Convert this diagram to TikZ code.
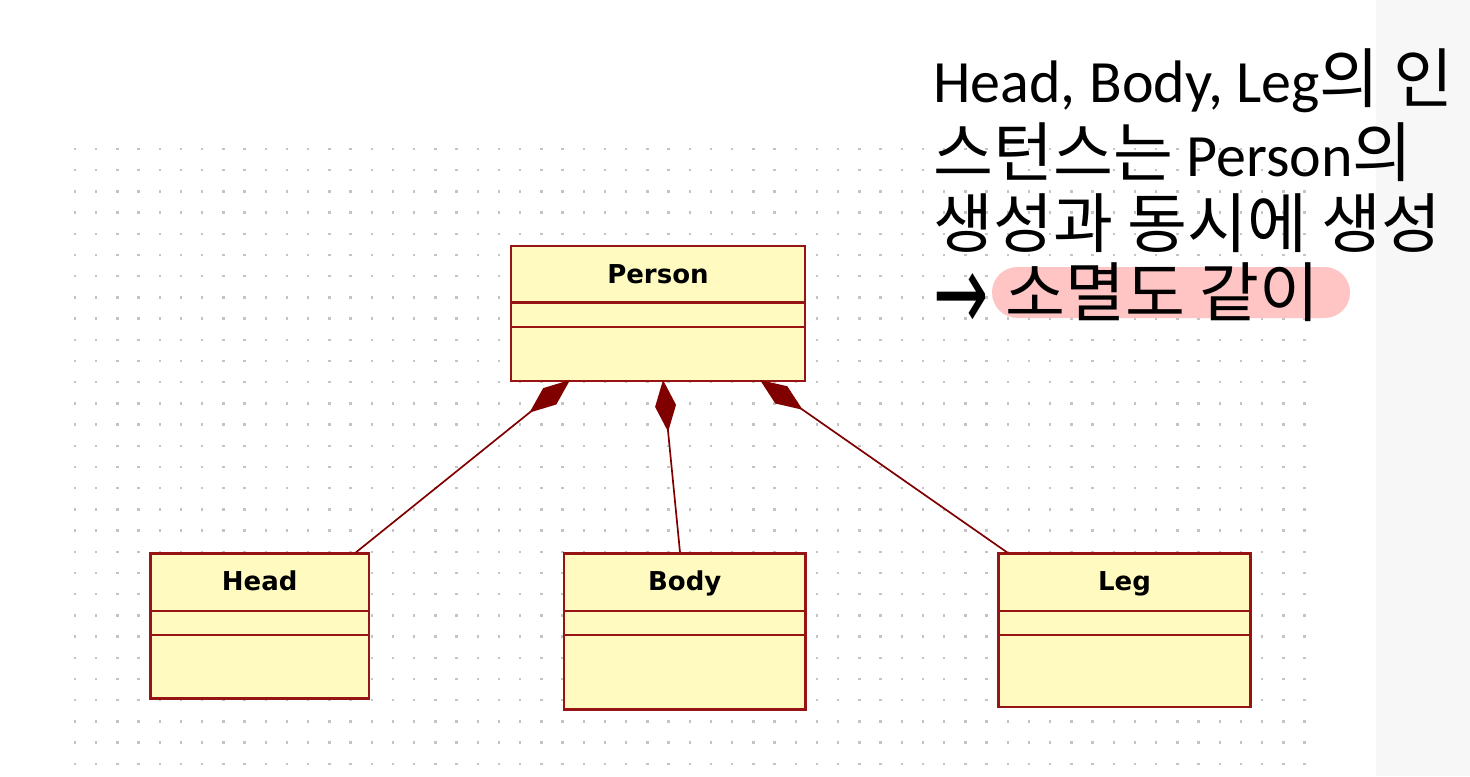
\documentclass[tikz,border=0pt]{standalone}
\usepackage{fontspec}
\setmainfont{Carlito}
\newfontfamily\kr{Noto Sans CJK KR}[Scale=1.085]
\newfontfamily\arrowfont{DejaVu Sans}
\newfontfamily\umlfont{DejaVu Sans}
\usetikzlibrary{arrows.meta,calc}
\definecolor{boxfill}{HTML}{FFFBC0}
\definecolor{boxline}{HTML}{961414}
\definecolor{conn}{HTML}{800000}
\definecolor{dotc}{HTML}{C4C4C4}
\definecolor{panel}{HTML}{F7F7F7}
\definecolor{hl}{HTML}{FFC4C4}
\tikzset{
  umlbox/.style={draw=boxline, fill=boxfill, line width=1.2pt, inner sep=0pt, anchor=north west},
  divider/.style={draw=boxline, line width=1.2pt},
  umltitle/.style={anchor=base, inner sep=0pt, font=\umlfont\bfseries\fontsize{13pt}{15pt}\selectfont},
  comp/.style={draw=conn, line width=0.85pt, {Diamond[length=26pt,width=10.5pt,fill=conn]}-},
  note/.style={anchor=base west, inner sep=0pt, font=\fontsize{30pt}{36pt}\selectfont},
}
\begin{document}
\begin{tikzpicture}[x=0.5pt,y=-0.5pt]
\useasboundingbox (0,0) rectangle (1470,776);
\fill[white] (0,0) rectangle (1470,776);
\fill[panel] (1376,0) rectangle (1470,776);
% dot grid
\foreach \i in {0,...,58}{
  \foreach \j in {0,...,29}{
    \fill[dotc] ({75+\i*21.2-1.2},{149+\j*21.2-1.2}) rectangle ++(2.4,2.4);
  }
}
% boxes
\node[umlbox, minimum width=147.25pt, minimum height=67.5pt] (person) at (509.5,245) {};
\node[umlbox, minimum width=109.2pt, minimum height=72.5pt] (head) at (149.3,552.3) {};
\node[umlbox, minimum width=120.8pt, minimum height=78pt] (body) at (562.7,552.3) {};
\node[umlbox, minimum width=126pt, minimum height=76.7pt] (leg) at (997.3,552.3) {};
\foreach \b/\d/\e in {person/57.5/82, head/58.4/82.7, body/58.4/82.7, leg/58.7/82.7}{
  \draw[divider] ($(\b.north west)+(0,\d)$) -- ($(\b.north east)+(0,\d)$);
  \draw[divider] ($(\b.north west)+(0,\e)$) -- ($(\b.north east)+(0,\e)$);
}
\node[umltitle] (personT) at ($(person.north)+(0,38)$) {Person};
\node[umltitle] (headT) at ($(head.north)+(0,38)$) {Head};
\node[umltitle] (bodyT) at ($(body.north)+(0,38)$) {Body};
\node[umltitle] (legT) at ($(leg.north)+(0,38)$) {Leg};
% connector end points
\coordinate (pH) at (570,380);
\coordinate (hH) at (356,552.3);
\coordinate (pB) at (663,380);
\coordinate (bB) at (680,552.3);
\coordinate (pL) at (760,380);
\coordinate (lL) at (1007,552.3);
\draw[comp] (pH) -- (hH);
\draw[comp] (pB) -- (bB);
\draw[comp] (pL) -- (lL);
% note text
\fill[hl, rounded corners=12.7pt] (992,267) rectangle (1350,318);
\node[note] (n1) at (933,102) {Head, Body, Leg{\kr 의} {\kr 인}};
\node[note] (n2) at (933,176) {{\kr 스턴스는} Person{\kr 의}};
\node[note] (n3) at (933,247) {{\kr 생성과 동시에 생성}};
\node[note] (n4) at (933,316) {\makebox[36pt][l]{\raisebox{-7pt}{\scalebox{1.1}[1.8]{\arrowfont →}}}{\kr 소멸도 같이}};
\end{tikzpicture}
\end{document}
